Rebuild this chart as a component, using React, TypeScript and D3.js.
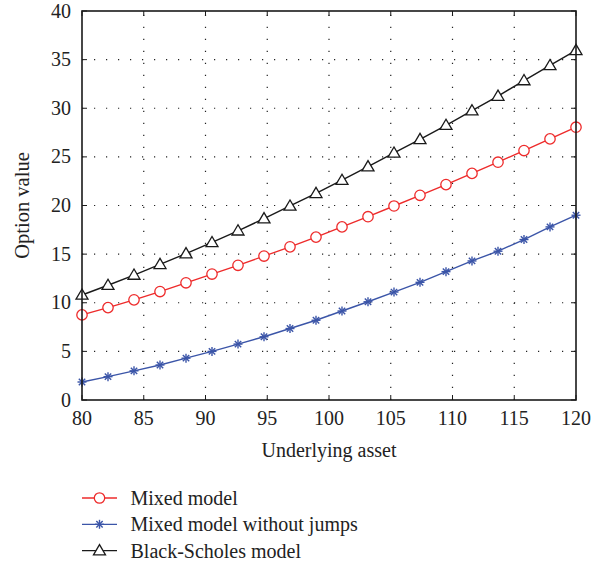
import React from "react";
import * as d3 from "d3";

const xValues: number[] = d3.range(20).map((i) => 80 + (i * 40) / 19);
const mixed: number[] = [8.75, 9.5, 10.3, 11.15, 12.05, 12.95, 13.85, 14.8, 15.75, 16.75, 17.8, 18.85, 19.95, 21.05, 22.15, 23.3, 24.45, 25.65, 26.85, 28.05];
const noJumps: number[] = [1.85, 2.4, 3.0, 3.6, 4.3, 5.0, 5.75, 6.5, 7.35, 8.2, 9.15, 10.1, 11.1, 12.1, 13.2, 14.3, 15.3, 16.5, 17.8, 19.0];
const blackScholes: number[] = [10.8, 11.8, 12.85, 13.95, 15.05, 16.2, 17.4, 18.65, 19.95, 21.25, 22.6, 24.0, 25.4, 26.8, 28.25, 29.75, 31.25, 32.85, 34.4, 35.95];
const xTicks: number[] = [80, 85, 90, 95, 100, 105, 110, 115, 120];
const yTicks: number[] = [0, 5, 10, 15, 20, 25, 30, 35, 40];
const seriesNames: string[] = ["Mixed model", "Mixed model without jumps", "Black-Scholes model"];

const RED = "#ee2b2b";
const BLUE = "#3b55a8";
const BLACK = "#1a1a1a";
const FONT = "'Liberation Serif', 'DejaVu Serif', serif";

type Kind = "circle" | "star" | "triangle";

function Marker({ x, y, kind, color }: { x: number; y: number; kind: Kind; color: string }) {
  if (kind === "circle") {
    return <circle cx={x} cy={y} r={5.2} fill="white" stroke={color} strokeWidth={1.3} />;
  }
  if (kind === "triangle") {
    const s = 6;
    const pts = `${x},${y - s} ${x - s},${y + s * 0.7} ${x + s},${y + s * 0.7}`;
    return <polygon points={pts} fill="white" stroke={color} strokeWidth={1.3} />;
  }
  const r = 4.5;
  const lines = [0, 45, 90, 135].map((a) => {
    const rad = (a * Math.PI) / 180;
    return (
      <line
        key={a}
        x1={x - r * Math.cos(rad)}
        y1={y - r * Math.sin(rad)}
        x2={x + r * Math.cos(rad)}
        y2={y + r * Math.sin(rad)}
        stroke={color}
        strokeWidth={1.4}
      />
    );
  });
  return <g>{lines}</g>;
}

export default function App() {
  const W = 606;
  const H = 563;
  const left = 82;
  const right = 576;
  const top = 11;
  const bottom = 400;
  const x = d3.scaleLinear().domain([80, 120]).range([left, right]);
  const y = d3.scaleLinear().domain([0, 40]).range([bottom, top]);

  const series: { name: string; values: number[]; color: string; kind: Kind }[] = [
    { name: seriesNames[0], values: mixed, color: RED, kind: "circle" },
    { name: seriesNames[1], values: noJumps, color: BLUE, kind: "star" },
    { name: seriesNames[2], values: blackScholes, color: BLACK, kind: "triangle" },
  ];

  const line = d3
    .line<number>()
    .x((_, i) => x(xValues[i]))
    .y((d) => y(d));

  const tickLen = 5;

  return (
    <svg width={W} height={H} style={{ position: "absolute", left: 0, top: 0, background: "white" }} fontFamily={FONT}>
      <rect x={0} y={0} width={W} height={H} fill="white" />
      {/* grid */}
      {xTicks.slice(1, -1).map((t) => (
        <line key={"gx" + t} x1={x(t)} x2={x(t)} y1={bottom} y2={top} stroke="#222" strokeWidth={1.2} strokeDasharray="1.2,10.8" />
      ))}
      {yTicks.slice(1, -1).map((t) => (
        <line key={"gy" + t} x1={left} x2={right} y1={y(t)} y2={y(t)} stroke="#222" strokeWidth={1.2} strokeDasharray="1.2,10.8" />
      ))}
      {/* ticks */}
      {xTicks.map((t) => (
        <g key={"tx" + t}>
          <line x1={x(t)} x2={x(t)} y1={bottom} y2={bottom - tickLen} stroke={BLACK} strokeWidth={1} />
          <line x1={x(t)} x2={x(t)} y1={top} y2={top + tickLen} stroke={BLACK} strokeWidth={1} />
          <text x={x(t)} y={bottom + 25} textAnchor="middle" fontSize={20} fill="#222">
            {t}
          </text>
        </g>
      ))}
      {yTicks.map((t) => (
        <g key={"ty" + t}>
          <line x1={left} x2={left + tickLen} y1={y(t)} y2={y(t)} stroke={BLACK} strokeWidth={1} />
          <line x1={right} x2={right - tickLen} y1={y(t)} y2={y(t)} stroke={BLACK} strokeWidth={1} />
          <text x={left - 11} y={y(t) + 6.5} textAnchor="end" fontSize={20} fill="#222">
            {t}
          </text>
        </g>
      ))}
      {/* series */}
      {series.map((s) => (
        <g key={s.name}>
          <path d={line(s.values) || ""} fill="none" stroke={s.color} strokeWidth={1.4} />
          {s.values.map((v, i) => (
            <Marker key={i} x={x(xValues[i])} y={y(v)} kind={s.kind} color={s.color} />
          ))}
        </g>
      ))}
      {/* frame */}
      <rect x={left} y={top} width={right - left} height={bottom - top} fill="none" stroke={BLACK} strokeWidth={1.6} />
      {/* axis titles */}
      <text x={(left + right) / 2} y={457} textAnchor="middle" fontSize={20} fill="#222">
        Underlying asset
      </text>
      <text transform={`translate(29,${(top + bottom) / 2}) rotate(-90)`} textAnchor="middle" fontSize={20.5} fill="#222">
        Option value
      </text>
      {/* legend */}
      {series.map((s, i) => {
        const cy = 498 + i * 26.3;
        return (
          <g key={"lg" + i}>
            <line x1={82} x2={117} y1={cy} y2={cy} stroke={s.color} strokeWidth={1.3} />
            <Marker x={99.5} y={cy} kind={s.kind} color={s.color} />
            <text x={130.5} y={cy + 7} fontSize={20} fill="#222">
              {s.name}
            </text>
          </g>
        );
      })}
    </svg>
  );
}
